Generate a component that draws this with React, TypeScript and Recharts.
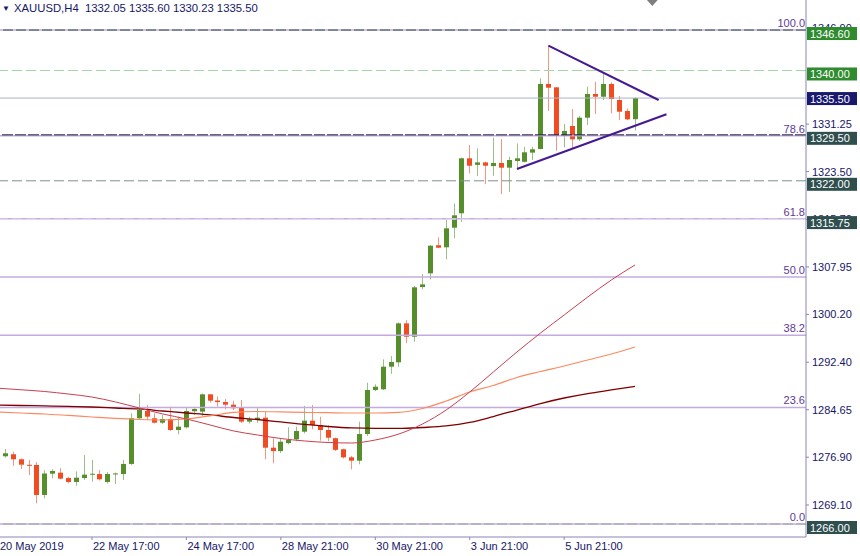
import { ComposedChart, Bar, Line, XAxis, YAxis, ReferenceLine, ReferenceDot } from 'recharts'

// XAUUSD H4 candles, left to right (last one is the current bar)
const opens = [
  1276.66, 1277.05, 1277.38, 1276.56, 1275.66, 1275.63, 1270.74, 1274.21, 1274.37, 1273.5,
  1272.86, 1273.5, 1274.1, 1274.15, 1272.86, 1274.1, 1274.16, 1275.8, 1283.25, 1284.44,
  1283.25, 1282.53, 1283.14, 1281.34, 1281.78, 1284.4, 1284.33, 1287.16, 1286.15, 1285.9,
  1285.47, 1284.97, 1282.7, 1282.97, 1283.35, 1278.45, 1277.9, 1279.2, 1279.82, 1281.06,
  1282.86, 1282.15, 1281.34, 1280.0, 1278.2, 1276.88, 1276.33, 1280.68, 1287.87, 1287.98,
  1291.67, 1292.38, 1298.74, 1296.56, 1304.66, 1306.9, 1311.48, 1311.15, 1314.35, 1316.7,
  1325.67, 1324.6, 1325.0, 1324.4, 1324.9, 1324.14, 1325.23, 1325.1, 1326.6, 1327.19,
  1337.8, 1337.25, 1329.31, 1330.94, 1328.77, 1332.3, 1336.16, 1335.72, 1337.8, 1335.18,
  1333.39, 1332.05,
]
const highs = [
  1277.1, 1278.24, 1277.8, 1276.7, 1276.45, 1276.1, 1274.8, 1274.93, 1275.1, 1273.7,
  1274.6, 1277.26, 1276.45, 1274.8, 1274.5, 1274.4, 1276.45, 1284.07, 1287.2, 1285.42,
  1284.07, 1283.8, 1285.15, 1283.5, 1285.05, 1285.15, 1287.3, 1287.2, 1286.8, 1286.4,
  1286.1, 1286.24, 1283.5, 1285.05, 1284.33, 1279.98, 1280.0, 1281.78, 1281.9, 1285.26,
  1285.42, 1283.5, 1282.1, 1280.1, 1278.3, 1277.1, 1282.7, 1289.06, 1288.8, 1292.87,
  1293.4, 1298.9, 1299.3, 1304.83, 1306.79, 1311.5, 1312.78, 1315.6, 1318.3, 1325.8,
  1327.84, 1327.3, 1325.1, 1329.03, 1328.8, 1325.9, 1328.1, 1327.56, 1327.56, 1338.72,
  1344.04, 1337.3, 1331.27, 1333.71, 1332.6, 1337.35, 1338.17, 1339.54, 1338.07, 1335.83,
  1333.8, 1335.6,
]
const lows = [
  1276.5, 1276.82, 1275.5, 1274.97, 1273.99, 1269.38, 1270.2, 1273.46, 1273.3, 1272.64,
  1272.25, 1273.18, 1272.9, 1273.1, 1272.6, 1272.53, 1273.18, 1275.6, 1282.96, 1282.96,
  1282.4, 1282.3, 1281.2, 1280.64, 1281.6, 1283.8, 1283.6, 1285.8, 1285.15, 1284.7,
  1284.6, 1282.5, 1282.4, 1282.5, 1276.56, 1275.9, 1277.6, 1279.0, 1279.5, 1280.8,
  1281.46, 1279.6, 1279.5, 1277.9, 1276.7, 1274.93, 1275.75, 1280.36, 1287.7, 1287.87,
  1290.5, 1291.67, 1295.5, 1295.75, 1304.3, 1305.9, 1311.0, 1309.19, 1312.6, 1315.3,
  1323.2, 1322.8, 1321.47, 1322.83, 1319.85, 1320.2, 1323.9, 1325.0, 1325.4, 1327.14,
  1333.39, 1326.9, 1327.46, 1327.3, 1328.5, 1331.1, 1332.9, 1335.17, 1333.0, 1331.9,
  1331.9, 1330.23,
]
const closes = [
  1276.98, 1277.54, 1276.56, 1275.68, 1275.5, 1270.74, 1274.24, 1274.65, 1273.4, 1272.86,
  1273.56, 1274.05, 1274.2, 1273.3, 1274.16, 1274.25, 1275.8, 1283.25, 1284.6, 1283.51,
  1282.53, 1283.14, 1281.34, 1281.88, 1284.44, 1284.77, 1287.16, 1286.12, 1285.9, 1285.47,
  1284.88, 1282.7, 1283.1, 1283.35, 1278.45, 1277.9, 1279.43, 1279.7, 1281.17, 1282.86,
  1282.15, 1281.34, 1280.08, 1278.1, 1276.88, 1276.33, 1280.68, 1287.87, 1288.4, 1291.67,
  1292.43, 1298.74, 1296.56, 1304.62, 1305.1, 1311.41, 1311.08, 1314.25, 1316.37, 1325.67,
  1324.46, 1325.0, 1324.46, 1324.9, 1324.14, 1325.4, 1325.67, 1326.65, 1327.14, 1337.8,
  1337.19, 1329.31, 1330.13, 1328.77, 1332.3, 1336.16, 1335.72, 1337.8, 1335.35, 1333.27,
  1332.03, 1335.5,
]

// time axis: bar index of each label
const xTickIndex = [0, 12, 24, 36, 48, 60, 72]
const xTickLabels = ['20 May 2019', '22 May 17:00', '24 May 17:00', '28 May 21:00', '30 May 21:00', '3 Jun 21:00', '5 Jun 21:00']

// price scale labels that show (1339.10 sits fully under the 1340.00 tag)
const priceTicks = [1269.1, 1276.9, 1284.65, 1292.4, 1300.2, 1307.95, 1315.7, 1323.5, 1331.25, 1346.9]

// moving averages, read every 3rd bar
const maIndex = [0, 3, 6, 9, 12, 15, 18, 21, 24, 27, 30, 33, 36, 39, 42, 45, 48, 51, 54, 57, 60, 63, 66, 69, 72, 75, 78, 81]
const maFast = [
  1288.16, 1287.9, 1287.62, 1287.21, 1286.72, 1285.91, 1284.93, 1283.95, 1283.14, 1282.16,
  1281.18, 1280.53, 1279.95, 1279.55, 1279.3, 1279.22, 1279.71, 1280.69, 1282.32, 1284.6,
  1287.54, 1290.8, 1294.07, 1297.17, 1300.1, 1303.04, 1305.82, 1308.26,
]
const maMid = [
  1284.28, 1284.11, 1283.95, 1283.71, 1283.46, 1283.22, 1283.05, 1282.97, 1283.14, 1283.63,
  1284.2, 1284.36, 1284.28, 1284.2, 1284.16, 1284.11, 1284.11, 1284.2, 1284.85, 1286.07,
  1287.54, 1288.6, 1289.91, 1290.88, 1291.78, 1292.76, 1293.74, 1294.88,
]
const maSlow = [
  1285.42, 1285.34, 1285.26, 1285.18, 1285.09, 1284.93, 1284.77, 1284.44, 1284.11, 1283.79,
  1283.38, 1283.05, 1282.65, 1282.24, 1281.91, 1281.67, 1281.59, 1281.59, 1281.75, 1282.0,
  1282.57, 1283.54, 1284.6, 1285.66, 1286.56, 1287.29, 1287.87, 1288.44,
]

// fibonacci retracement 1266.00 -> 1346.60
const fibLow = 1266.0
const fibHigh = 1346.6
const fibLevels = [0, 23.6, 38.2, 50, 61.8, 78.6, 100]
const fibLabels = ['0.0', '23.6', '38.2', '50.0', '61.8', '78.6', '100.0']

// horizontal price lines with their tags
const levelPrices = [1346.6, 1340.0, 1335.5, 1329.5, 1322.0, 1315.75, 1266.0]
const levelLabels = ['1346.60', '1340.00', '1335.50', '1329.50', '1322.00', '1315.75', '1266.00']

// triangle trendlines
const triUpper = [{ i: 70, p: 1344.04 }, { i: 84, p: 1335.18 }]
const triLower = [{ i: 66, p: 1323.93 }, { i: 85, p: 1332.85 }]

const shiftMarkerIndex = 83.2

const levelStyle = [
  { line: '#2f4f4f', dash: '10 3', tag: '#2e8b2e', tagOffset: 3 },
  { line: '#a3d6a3', dash: '10 4', tag: '#2e8b2e', tagOffset: 3 },
  { line: '#aab3c8', dash: undefined, tag: '#191970', tagOffset: 6 },
  { line: '#1c1c3c', dash: '11 2', tag: '#2f4f4f', tagOffset: 3 },
  { line: '#7d9090', dash: '10 4', tag: '#2f4f4f', tagOffset: 3 },
  { line: '#e4def0', dash: '10 4', tag: '#2f4f4f', tagOffset: 3 },
  { line: '#9aa6a6', dash: '10 3', tag: '#2f4f4f', tagOffset: 3 },
]

const FONT = '"Liberation Sans", Arial, sans-serif'
const NAVY = '#161668'
const FIB_COLOR = '#c3abdf'
const BORDER = '#8b84b5'
const Y_DOMAIN = [1263.88, 1351.5]

const rows: any[] = opens.map((o, i) => ({
  i,
  open: o,
  high: highs[i],
  low: lows[i],
  close: closes[i],
  range: [lows[i], highs[i]],
}))
maIndex.forEach((idx, k) => {
  rows[idx].maFast = maFast[k]
  rows[idx].maMid = maMid[k]
  rows[idx].maSlow = maSlow[k]
})

const Candle = (props: any) => {
  const { x, y, width, height, payload } = props
  if (x == null || y == null) return null
  const { open, close, high, low } = payload
  const cx = Math.round(x + width / 2) + 0.5
  const ppu = height / (high - low || 1)
  const yO = y + (high - open) * ppu
  const yC = y + (high - close) * ppu
  const up = close >= open
  const top = Math.min(yO, yC)
  const bh = Math.max(1, Math.abs(yO - yC))
  return (
    <g>
      <line x1={cx} x2={cx} y1={y} y2={y + height} stroke={up ? '#9cbf86' : '#f39580'} strokeWidth={1} />
      <rect x={cx - 2.5} y={top} width={5} height={bh} fill={up ? '#578e2c' : '#f24b22'} />
    </g>
  )
}

const XTick = (props: any) => {
  const { x, y, index } = props
  return (
    <text x={Math.max(0, x + 1)} y={y} dy="0.71em" textAnchor="start" fill={NAVY} fontSize={11} fontFamily={FONT}>
      {xTickLabels[index]}
    </text>
  )
}

// price tags drawn on their own axis so they sit above the regular tick labels
const TagTick = (props: any) => {
  const { y, index } = props
  const st = levelStyle[index]
  const left = 807
  const top = y - st.tagOffset
  return (
    <g>
      <rect x={left} y={top} width={50} height={13} fill={st.tag} />
      <text x={left + 3} y={top + 10.5} fill="#ffffff" fontSize={11} fontFamily={FONT}>
        {levelLabels[index]}
      </text>
    </g>
  )
}

const fibLabel = (text: string) => (props: any) => {
  const { viewBox } = props
  return (
    <text x={viewBox.x + viewBox.width - 1} y={viewBox.y - 3} textAnchor="end" fill="#5e3a94" fontSize={11} fontFamily={FONT}>
      {text}
    </text>
  )
}

const ShiftMarker = (props: any) => {
  const { cx, cy } = props
  return <polygon points={`${cx - 9},${cy - 4} ${cx + 9},${cy - 4} ${cx},${cy + 6}`} fill="#7f7f7f" />
}

const App = () => {
  return (
    <div style={{ position: 'absolute', left: 0, top: 0, width: 860, height: 556, background: '#fff', fontFamily: FONT }}>
      <ComposedChart width={860} height={556} data={rows} margin={{ top: 0, right: 0, bottom: 0, left: 0 }}>
        <XAxis
          dataKey="i"
          type="number"
          domain={[0.314, 102.73]}
          allowDataOverflow
          ticks={xTickIndex}
          interval={0}
          height={19}
          tickSize={3}
          axisLine={{ stroke: BORDER }}
          tickLine={{ stroke: BORDER }}
          tick={<XTick />}
        />
        <YAxis
          orientation="right"
          width={53}
          domain={Y_DOMAIN}
          allowDataOverflow
          ticks={priceTicks}
          interval={0}
          tickSize={3}
          tickMargin={3}
          tickFormatter={(v: number) => v.toFixed(2)}
          tick={{ fill: NAVY, fontSize: 11, fontFamily: FONT }}
          axisLine={{ stroke: BORDER }}
          tickLine={{ stroke: BORDER }}
        />
        <YAxis
          yAxisId="tags"
          orientation="right"
          width={1}
          domain={Y_DOMAIN}
          allowDataOverflow
          ticks={levelPrices}
          interval={0}
          axisLine={false}
          tickLine={false}
          tick={<TagTick />}
        />

        {fibLevels.map((lv, k) => (
          <ReferenceLine
            key={'fib' + lv}
            y={fibLow + ((fibHigh - fibLow) * lv) / 100}
            stroke={FIB_COLOR}
            strokeWidth={1.5}
            label={fibLabel(fibLabels[k])}
          />
        ))}
        {levelPrices.map((p, k) => (
          <ReferenceLine
            key={'lvl' + p}
            y={p}
            stroke={levelStyle[k].line}
            strokeDasharray={levelStyle[k].dash}
            strokeWidth={1}
          />
        ))}

        <Line dataKey="maSlow" type="monotone" stroke="#800000" strokeWidth={1.3} dot={false} connectNulls isAnimationActive={false} />
        <Line dataKey="maMid" type="monotone" stroke="#fb8a62" strokeWidth={1.2} dot={false} connectNulls isAnimationActive={false} />
        <Line dataKey="maFast" type="monotone" stroke="#c8404f" strokeWidth={1} dot={false} connectNulls isAnimationActive={false} />

        <Bar dataKey="range" barSize={5} shape={<Candle />} isAnimationActive={false} />

        <ReferenceLine
          segment={[{ x: triUpper[0].i, y: triUpper[0].p }, { x: triUpper[1].i, y: triUpper[1].p }]}
          stroke="#45198f"
          strokeWidth={2}
        />
        <ReferenceLine
          segment={[{ x: triLower[0].i, y: triLower[0].p }, { x: triLower[1].i, y: triLower[1].p }]}
          stroke="#45198f"
          strokeWidth={2}
        />
        <ReferenceDot x={shiftMarkerIndex} y={1351.5} r={0} shape={<ShiftMarker />} ifOverflow="visible" />
      </ComposedChart>
      <div style={{ position: 'absolute', left: 2, top: 4, fontSize: 8, lineHeight: '9px', color: NAVY }}>▼</div>
      <div style={{ position: 'absolute', left: 14, top: 2, fontSize: 11.3, lineHeight: '13px', color: NAVY, whiteSpace: 'pre' }}>
        {'XAUUSD,H4  1332.05 1335.60 1330.23 1335.50'}
      </div>
    </div>
  )
}

export default App
